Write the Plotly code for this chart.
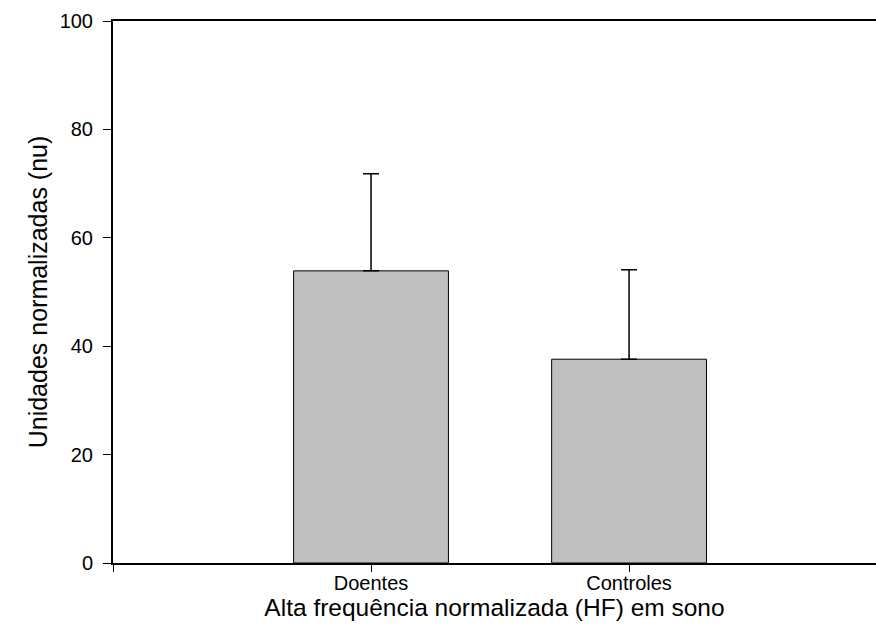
import plotly.graph_objects as go

categories = ["Doentes", "Controles"]
positions = [1, 2]
means = [53.9, 37.6]
errors = [17.9, 16.5]
y_ticks = [0, 20, 40, 60, 80, 100]

fig = go.Figure()
fig.add_trace(go.Bar(
    x=positions, y=means, width=0.6,
    marker=dict(color="#c0c0c0", line=dict(color="black", width=1)),
    error_y=dict(type="data", array=errors, arrayminus=[0, 0], symmetric=False,
                 color="black", thickness=1.5, width=8),
))
# empty helper trace so the label-only overlay axis is drawn
fig.add_trace(go.Scatter(x=[None], y=[None], yaxis="y2", showlegend=False,
                         hoverinfo="skip"))

font = "Liberation Sans, Arial, sans-serif"
fig.update_layout(
    width=876, height=630,
    margin=dict(l=113, r=0, t=21, b=67),
    plot_bgcolor="white", paper_bgcolor="white",
    showlegend=False,
    font=dict(family=font, color="black"),
    xaxis=dict(
        range=[0, 2.957], tickmode="array", tickvals=[0] + positions,
        ticktext=[""] + categories, ticks="outside", ticklen=7, tickwidth=1,
        tickcolor="black", showline=True, linecolor="black", linewidth=2,
        mirror=True, showgrid=False, zeroline=False,
        tickfont=dict(size=20, family=font), ticklabelstandoff=-6,
        title=dict(text="Alta frequência normalizada (HF) em sono",
                   font=dict(size=24.5, family=font), standoff=2),
    ),
    yaxis=dict(
        range=[0, 100], tickmode="array", tickvals=y_ticks,
        ticks="outside", ticklen=8, tickwidth=1, tickcolor="black",
        showline=True, linecolor="black", linewidth=1.5,
        showgrid=False, zeroline=False, showticklabels=False,
    ),
    yaxis2=dict(
        overlaying="y", side="left",
        range=[0, 100], tickmode="array", tickvals=y_ticks,
        ticks="outside", ticklen=15, tickwidth=1, tickcolor="rgba(0,0,0,0)",
        showline=False, showgrid=False, zeroline=False,
        tickfont=dict(size=20, family=font),
        title=dict(text="Unidades normalizadas (nu)",
                   font=dict(size=25, family=font), standoff=4),
    ),
)

fig.write_html("out.html")
